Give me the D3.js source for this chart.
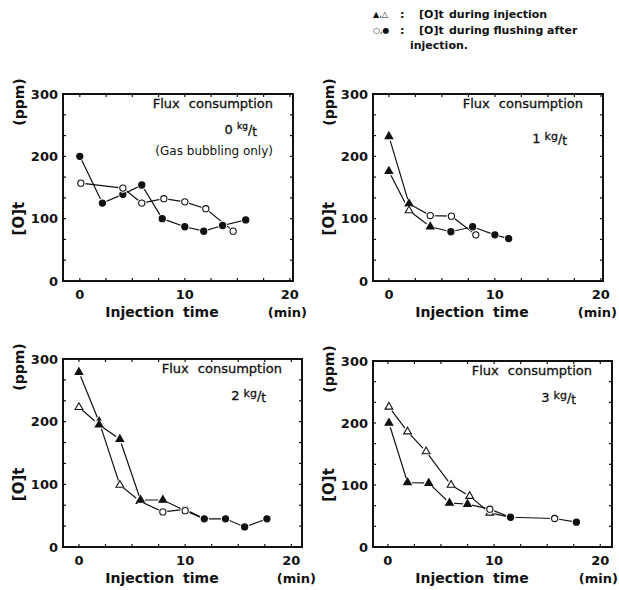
<!DOCTYPE html>
<html>
<head>
<meta charset="utf-8">
<script src="https://cdn.jsdelivr.net/npm/d3@7"></script>
<style>
  body { margin: 0; background: #fff; }
  text { font-family: "DejaVu Sans", sans-serif; fill: #111; }
</style>
</head>
<body>
<svg id="chart" width="619" height="590"></svg>
<script>
// points: [injection time (min), [O]t (ppm), marker]
// marker: T = filled triangle, t = open triangle, C = filled circle, c = open circle
const flux0A = [[0,200,"C"],[2.15,125,"C"],[4.1,139,"C"],[5.9,154,"C"],[7.85,100,"C"],[10,87,"C"],[11.8,80,"C"],[13.6,89,"C"],[15.8,98,"C"]];
const flux0B = [[0.1,157,"c"],[4.1,149,"c"],[5.9,125,"c"],[8,132,"c"],[10,127,"c"],[12,116,"c"],[14.6,80,"c"]];

const flux1A = [[0,232,"T"],[1.9,124,"T"],[3.9,105,"c"],[5.9,104,"c"],[8.2,74,"c"]];
const flux1B = [[0,176,"T"],[1.9,113,"t"],[3.9,87,"T"],[5.85,79,"C"],[7.9,87,"C"],[10,74,"C"],[11.3,68,"C"]];

const flux2A = [[0,279,"T"],[1.9,200,"T"],[3.85,99,"t"],[5.75,73,"t"],[7.9,56,"c"],[10,60,"c"],[11.8,45,"C"]];
const flux2B = [[0,223,"t"],[1.9,195,"T"],[3.85,172,"T"],[5.8,75,"T"],[7.9,75,"T"],[10,58,"c"],[11.8,45,"C"],[13.8,45,"C"],[15.6,32,"C"],[17.7,45,"C"]];

const flux3A = [[0.1,226,"t"],[1.85,186,"t"],[3.6,154,"t"],[5.95,100,"t"],[7.7,82,"t"],[9.6,55,"t"],[11.55,48,"C"],[15.7,46,"c"],[17.75,40,"C"]];
const flux3B = [[0.1,200,"T"],[1.85,104,"T"],[3.85,103,"T"],[5.8,71,"T"],[7.5,69,"T"],[9.6,61,"c"],[11.55,48,"C"]];

const fluxValues = ["0", "1", "2", "3"];
const xTicks = [0, 10, 20];
const yTicks = [0, 100, 200, 300];

// frame boxes (left, right, top, bottom) and x domain per panel
const panels = [
  {series: [flux0A, flux0B], flux: 0, box: [63, 293, 94, 281], xd: [-1.6, 20.3], sup: true, fy: 40, note: "(Gas bubbling only)"},
  {series: [flux1A, flux1B], flux: 1, box: [373, 603, 94, 281], xd: [-1.5, 20.2], sup: false, fy: 49},
  {series: [flux2A, flux2B], flux: 2, box: [63, 302, 359, 547], xd: [-1.5, 21.0], sup: false, fy: 41},
  {series: [flux3A, flux3B], flux: 3, box: [373, 612, 361, 547], xd: [-1.4, 21.1], sup: false, fy: 41}
];

const svg = d3.select("#chart");

panels.forEach(function (p) {
  const [L, R, T, B] = p.box;
  const x = d3.scaleLinear().domain(p.xd).range([L, R]);
  const y = d3.scaleLinear().domain([0, 300]).range([B, T]);
  const g = svg.append("g");

  // frame
  g.append("rect")
    .attr("x", L).attr("y", y(300)).attr("width", R - L).attr("height", B - y(300))
    .attr("fill", "none").attr("stroke", "#111").attr("stroke-width", 2);

  // small inward ticks
  d3.range(0, 20.1, 2.5).forEach(function (v) {
    g.append("line").attr("x1", x(v)).attr("x2", x(v)).attr("y1", B).attr("y2", B - 3)
      .attr("stroke", "#111").attr("stroke-width", 1.2);
    g.append("line").attr("x1", x(v)).attr("x2", x(v)).attr("y1", y(300)).attr("y2", y(300) + 3)
      .attr("stroke", "#111").attr("stroke-width", 1.2);
  });
  d3.range(0, 301, 100 / 3).forEach(function (v) {
    g.append("line").attr("x1", L).attr("x2", L + 3).attr("y1", y(v)).attr("y2", y(v))
      .attr("stroke", "#111").attr("stroke-width", 1.2);
    g.append("line").attr("x1", R).attr("x2", R - 3).attr("y1", y(v)).attr("y2", y(v))
      .attr("stroke", "#111").attr("stroke-width", 1.2);
  });

  // tick labels
  g.selectAll(".yl").data(yTicks).enter().append("text")
    .attr("x", L - 5).attr("y", d => y(d)).attr("dy", "0.35em")
    .attr("text-anchor", "end").attr("font-size", 13).attr("font-weight", "bold")
    .text(d => d);
  g.selectAll(".xl").data(xTicks).enter().append("text")
    .attr("x", d => x(d)).attr("y", B + 13).attr("dy", "0.35em")
    .attr("text-anchor", "middle").attr("font-size", 13).attr("font-weight", "bold")
    .text(d => d);

  // axis titles
  g.append("text").attr("x", L + 99).attr("y", B + 31).attr("dy", "0.35em")
    .attr("text-anchor", "middle").attr("font-size", 14).attr("font-weight", "bold")
    .attr("word-spacing", 4).text("Injection time");
  g.append("text").attr("x", Math.min(R + 14, 618)).attr("y", B + 31).attr("dy", "0.35em")
    .attr("text-anchor", "end").attr("font-size", 13).attr("font-weight", "bold")
    .text("(min)");
  g.append("text").attr("transform", `translate(${L - 44},${y(300) + 8}) rotate(-90)`)
    .attr("dy", "0.35em").attr("text-anchor", "middle")
    .attr("font-size", 14).attr("font-weight", "bold").text("(ppm)");
  g.append("text").attr("transform", `translate(${L - 44},${y(100)}) rotate(-90)`)
    .attr("dy", "0.35em").attr("text-anchor", "middle")
    .attr("font-size", 15).attr("font-weight", "bold").text("[O]t");

  // annotation
  g.append("text").attr("x", R - 20).attr("y", T + 14)
    .attr("text-anchor", "end").attr("font-size", 13).attr("word-spacing", 5)
    .attr("stroke", "#111").attr("stroke-width", 0.3).text("Flux consumption");
  const ft = g.append("text").attr("x", R - 36).attr("y", T + p.fy)
    .attr("text-anchor", "end").attr("font-size", 13)
    .attr("stroke", "#111").attr("stroke-width", 0.3);
  ft.append("tspan").text(fluxValues[p.flux] + " ");
  ft.append("tspan").attr("dy", p.sup ? -5 : -3).attr("font-size", p.sup ? 9 : 11).text("kg");
  ft.append("tspan").attr("dy", p.sup ? 5 : 3).attr("font-size", 13).text("/");
  ft.append("tspan").attr("dy", 2).attr("font-size", 12).text("t");
  if (p.note) {
    g.append("text").attr("x", R - 20).attr("y", T + 61)
      .attr("text-anchor", "end").attr("font-size", 12).text(p.note);
  }

  // series lines
  const line = d3.line().x(d => x(d[0])).y(d => y(d[1]));
  p.series.forEach(function (s) {
    g.append("path").datum(s).attr("d", line)
      .attr("fill", "none").attr("stroke", "#111").attr("stroke-width", 1.2);
  });

  // markers with a white halo so lines stop short of them
  const tri = d3.symbol().type(d3.symbolTriangle).size(26);
  p.series.forEach(function (s) {
    s.forEach(function (d) {
      const cx = x(d[0]), cy = y(d[1]);
      g.append("circle").attr("cx", cx).attr("cy", cy).attr("r", 4.6).attr("fill", "#fff");
      if (d[2] === "T" || d[2] === "t") {
        g.append("path").attr("d", tri).attr("transform", `translate(${cx},${cy})`)
          .attr("fill", d[2] === "T" ? "#111" : "#fff").attr("stroke", "#111").attr("stroke-width", 1.1);
      } else {
        g.append("circle").attr("cx", cx).attr("cy", cy).attr("r", 3.1)
          .attr("fill", d[2] === "C" ? "#111" : "#fff").attr("stroke", "#111").attr("stroke-width", 1.1);
      }
    });
  });
});

// legend
const legendRows = [
  {marks: "\u25B2,\u25B3", text: "during injection", y: 14},
  {marks: "\u25CB,\u25CF", text: "during flushing after", y: 30}
];
legendRows.forEach(function (r) {
  svg.append("text").attr("x", 373).attr("y", r.y).attr("dy", "0.35em")
    .attr("font-size", 8).text(r.marks);
  svg.append("text").attr("x", 400).attr("y", r.y).attr("dy", "0.35em")
    .attr("font-size", 11).attr("font-weight", "bold").text(":");
  svg.append("text").attr("x", 419).attr("y", r.y).attr("dy", "0.35em")
    .attr("font-size", 11).attr("font-weight", "bold").text("[O]t");
  svg.append("text").attr("x", 449).attr("y", r.y).attr("dy", "0.35em")
    .attr("font-size", 11).attr("font-weight", "bold").text(r.text);
});
svg.append("text").attr("x", 410).attr("y", 45).attr("dy", "0.35em")
  .attr("font-size", 11).attr("font-weight", "bold").text("injection.");
</script>
</body>
</html>
